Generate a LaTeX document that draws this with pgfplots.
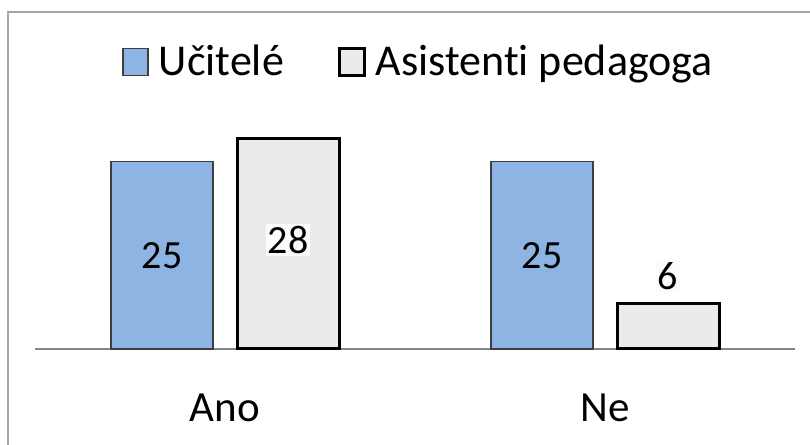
\documentclass[border=0pt]{standalone}
\usepackage{pgfplots}
\pgfplotsset{compat=1.18}
\usepackage{pgfplotstable}
\usepackage{fontspec}
\setmainfont[Ligatures=CommonOff]{Carlito}
\definecolor{ucblue}{HTML}{8EB4E3}
\definecolor{asgray}{HTML}{EBEBEB}
\definecolor{framegray}{HTML}{A6A6A6}
\definecolor{axgray}{HTML}{868686}
\definecolor{bluedge}{HTML}{3F3F3F}
\pgfplotstableread{
x y off
0 25 -47
1 25 -47
}\ucitele
\pgfplotstableread{
x y off
0 28 -50.5
1 6 14
}\asistenti
\begin{document}
\begin{tikzpicture}[x=1pt,y=1pt]
\useasboundingbox (0,0) rectangle (405,222.5);
\draw[framegray, line width=1.2pt] (4,0) -- (4,216.5) -- (405,216.5);
\begin{axis}[
  at={(17.5pt,48pt)}, anchor=south west,
  width=380pt, height=150pt, scale only axis,
  xmin=-0.5, xmax=1.5, ymin=0, ymax=40,
  ybar=12pt, bar width=51pt,
  /pgf/number format/assume math mode=true,
  axis y line=none, axis x line*=bottom,
  x axis line style={-, draw=axgray, line width=1pt},
  xtick={0,1}, xticklabels={Ano,Ne}, major tick length=0pt,
  xticklabel style={font=\fontsize{21.5}{26}\selectfont, yshift=-19pt},
  clip=false,
  nodes near coords,
  visualization depends on={\thisrow{off} \as \myoff},
  nodes near coords style={font=\fontsize{20}{24}\selectfont, anchor=center, yshift=\myoff pt},
  legend style={at={(0.51,0.957)}, anchor=center, draw=none, fill=none,
    font=\fontsize{22}{26}\selectfont,
    /tikz/every even column/.append style={column sep=22pt},
    nodes={inner sep=3pt, inner xsep=5pt}},
  legend columns=2,
  legend image code/.code={\draw[#1] (0pt,-6.75pt) rectangle (12.5pt,6.75pt);},
]
\addplot[fill=ucblue, draw=bluedge, line width=0.7pt] table[x=x,y=y] {\ucitele};
\addlegendentry{Učitelé}
\addplot[fill=asgray, draw=black, line width=1.5pt,
  nodes near coords style={fill=white!97!gray, inner sep=1pt}] table[x=x,y=y] {\asistenti};
\addlegendentry{Asistenti pedagoga}
\end{axis}
\end{tikzpicture}
\end{document}
